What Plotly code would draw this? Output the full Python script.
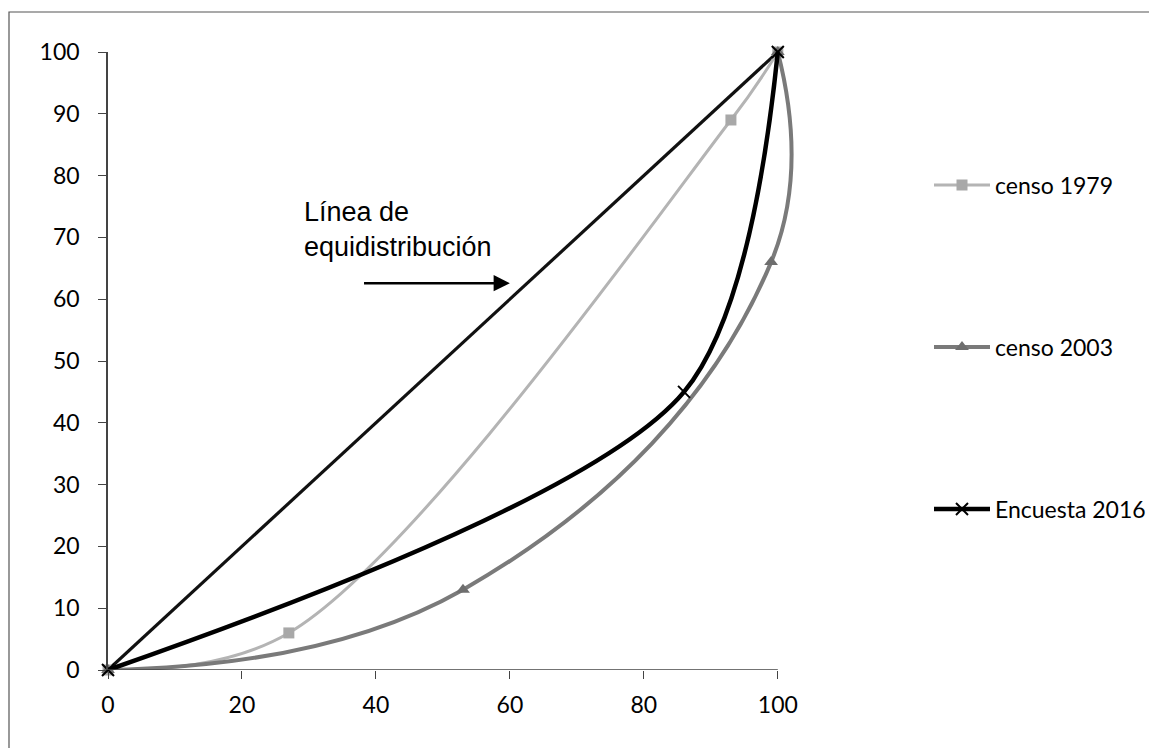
import plotly.graph_objects as go

# Data
x_equi = [0, 100]
y_equi = [0, 100]

x_1979 = [0, 27, 93, 100]
y_1979 = [0, 6, 89, 100]

x_2003 = [0, 53, 99, 100]
y_2003 = [0, 13, 66, 100]

x_2016 = [0, 86, 100]
y_2016 = [0, 45, 100]

x_ticks = [0, 20, 40, 60, 80, 100]
y_ticks = [0, 10, 20, 30, 40, 50, 60, 70, 80, 90, 100]

names = ["censo 1979", "censo 2003", "Encuesta 2016"]

W, H = 1157, 748
OFF = 8  # page body margin
L, R, T, B = 100, 347, 44, 86
pw = W - L - R
ph = H - T - B

def px_x(p):
    return (p - OFF - L) / pw

def px_y(p):
    return (H - B - (p - OFF)) / ph

FONT = "Lato, Carlito, Calibri, sans-serif"

fig = go.Figure()

fig.add_trace(go.Scatter(
    x=x_equi, y=y_equi, mode="lines",
    line=dict(color="#111111", width=3.2),
    showlegend=False, hoverinfo="skip",
))

fig.add_trace(go.Scatter(
    x=x_1979, y=y_1979, mode="lines+markers", name=names[0],
    line=dict(color="#b4b4b4", width=3, shape="spline", smoothing=1),
    marker=dict(symbol="square", size=11, color="#a8a8a8"),
    cliponaxis=False, legend="legend",
))

fig.add_trace(go.Scatter(
    x=x_2003, y=y_2003, mode="lines+markers", name=names[1],
    line=dict(color="#7a7a7a", width=4, shape="spline", smoothing=1.25),
    marker=dict(symbol="triangle-up", size=12, color="#6e6e6e"),
    cliponaxis=False, legend="legend2",
))

fig.add_trace(go.Scatter(
    x=x_2016, y=y_2016, mode="lines+markers", name=names[2],
    line=dict(color="#000000", width=4.5, shape="spline", smoothing=0.85),
    marker=dict(symbol="x-thin", size=12, line=dict(color="#000000", width=2)),
    cliponaxis=False, legend="legend3",
))

legend_common = dict(
    font=dict(family=FONT, size=23, color="#000000"),
    bgcolor="rgba(0,0,0,0)", xanchor="left", yanchor="middle",
    itemwidth=56, tracegroupgap=0,
)

fig.update_layout(
    width=W, height=H,
    margin=dict(l=L, r=R, t=T, b=B, autoexpand=False),
    paper_bgcolor="white", plot_bgcolor="white",
    font=dict(family=FONT, size=20, color="#000000"),
    xaxis=dict(
        range=[0, 106], tickvals=x_ticks, showgrid=False, zeroline=False,
        showline=False, ticks="outside", ticklen=8, tickcolor="#444444",
        tickfont=dict(size=23), ticklabelstandoff=6, automargin=False,
    ),
    yaxis=dict(
        range=[0, 100], tickvals=y_ticks, showgrid=False, zeroline=False,
        showline=True, linecolor="#444444", linewidth=1.5,
        ticks="outside", ticklen=8, tickcolor="#444444",
        tickfont=dict(size=23), ticklabelstandoff=14, automargin=False,
    ),
    legend=dict(x=px_x(929), y=px_y(185), **legend_common),
    legend2=dict(x=px_x(929), y=px_y(347), **legend_common),
    legend3=dict(x=px_x(929), y=px_y(509), **legend_common),
    showlegend=True,
)

# x axis line from 0 to 100 only
fig.add_shape(type="line", xref="x", yref="y", x0=0, x1=100, y0=0, y1=0,
              line=dict(color="#444444", width=1.5))

# outer chart border
fig.add_shape(type="rect", xref="paper", yref="paper",
              x0=px_x(9), x1=px_x(1175), y0=px_y(12), y1=px_y(770),
              line=dict(color="#555555", width=1.2), fillcolor="rgba(0,0,0,0)")

# annotation text
fig.add_annotation(
    x=29.0, y=71.2, xref="x", yref="y", xanchor="left", yanchor="middle",
    text="Línea de<br>equidistribución", showarrow=False, align="left",
    font=dict(family="Liberation Sans Narrow, Arial Narrow, Liberation Sans, sans-serif",
              size=27, color="#000000"),
)

# arrow
fig.add_annotation(
    x=60, y=62.6, ax=38, ay=62.6, xref="x", yref="y", axref="x", ayref="y",
    text="", showarrow=True, arrowhead=2, arrowsize=1.3, arrowwidth=2.5,
    arrowcolor="#000000",
)

fig.write_html("out.html")
